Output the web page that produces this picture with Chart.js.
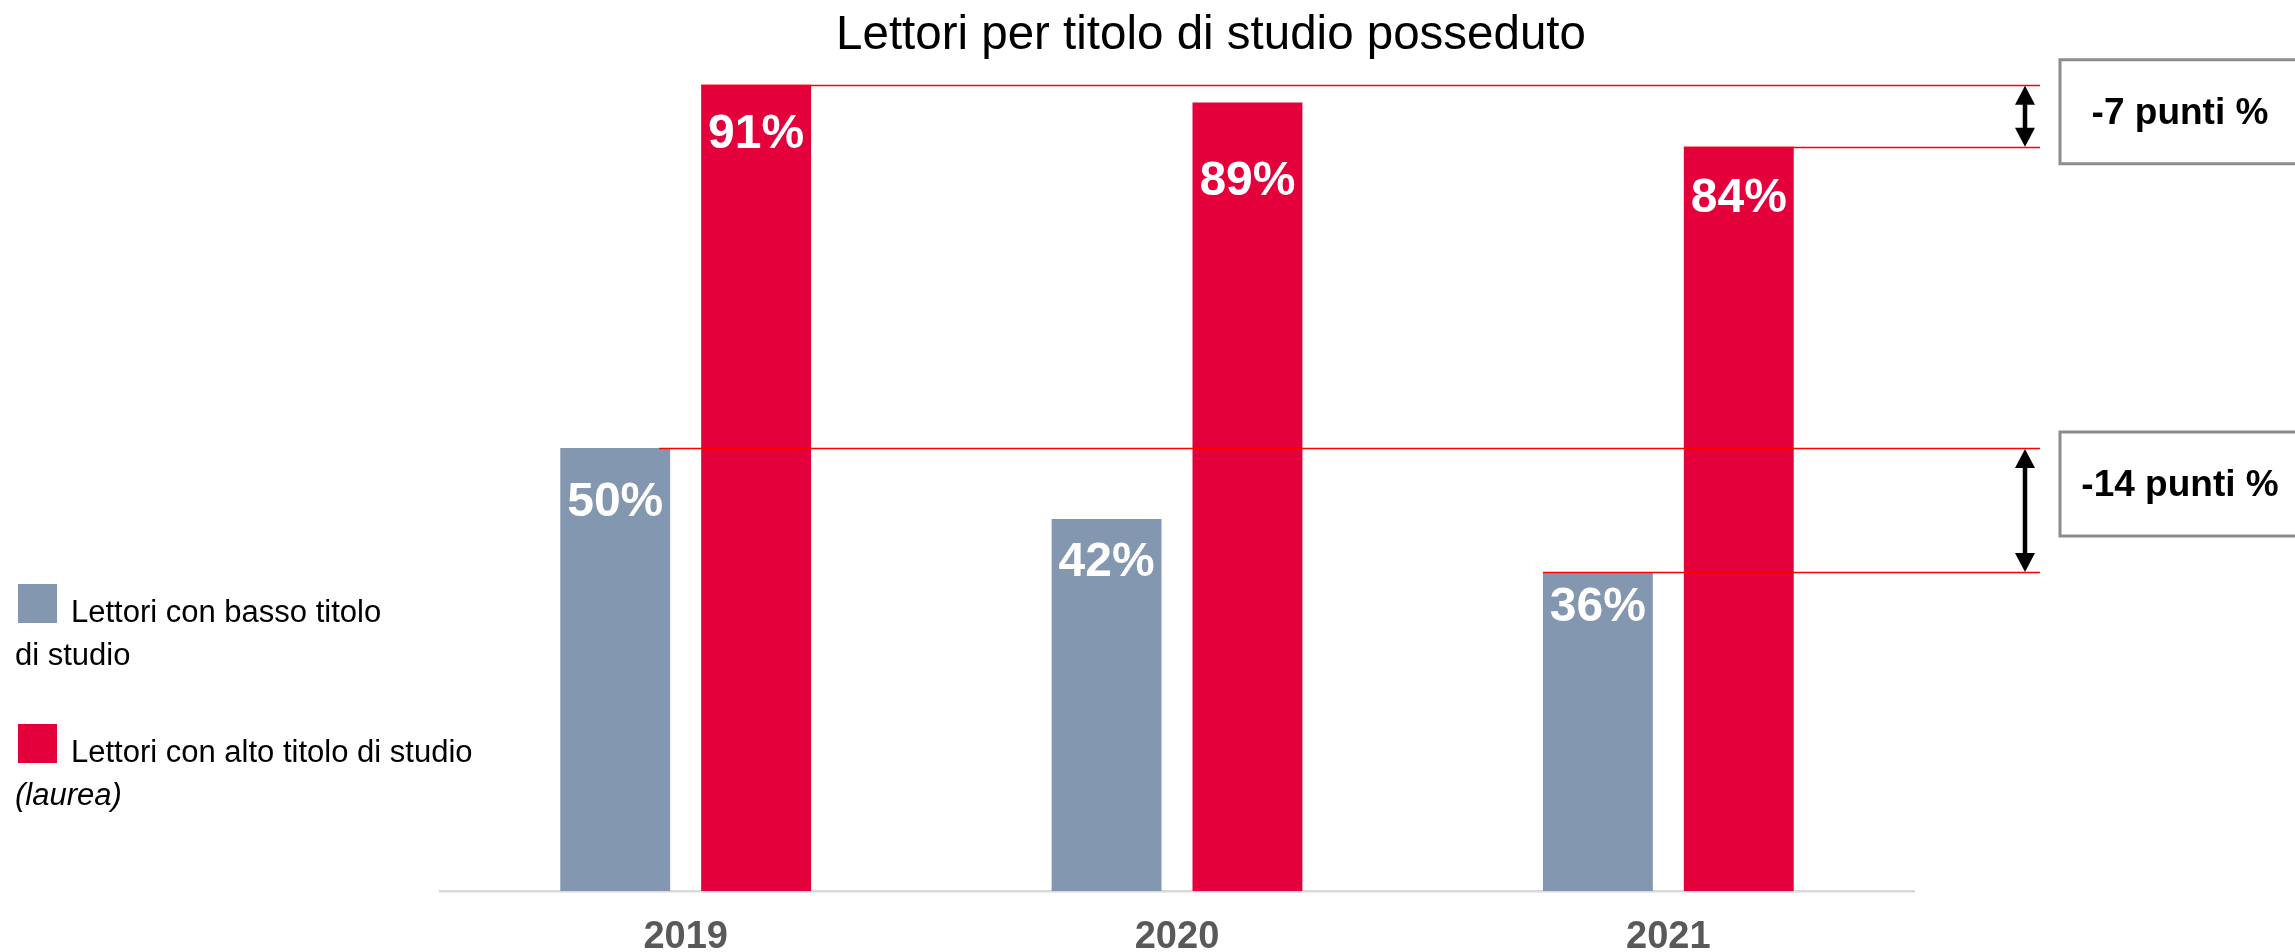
<!DOCTYPE html>
<html>
<head>
<meta charset="utf-8">
<script src="https://cdn.jsdelivr.net/npm/chart.js@4/dist/chart.umd.min.js"></script>
<style>
  html, body { margin: 0; padding: 0; background: #ffffff; }
  #wrap { width: 2295px; height: 952px; position: relative; }
  canvas { display: block; }
</style>
</head>
<body>
<div id="wrap"><canvas id="c" width="2295" height="952"></canvas></div>
<script>
// ---- data ----
const categories = ['2019', '2020', '2021'];
const bassoValues = [50, 42, 36];
const altoValues = [91, 89, 84];
const seriesNames = ['Lettori con basso titolo di studio', 'Lettori con alto titolo di studio (laurea)'];
const legendLines = [
  ['Lettori con basso titolo', 'di studio'],
  ['Lettori con alto titolo di studio', '(laurea)']
];
const chartTitle = 'Lettori per titolo di studio posseduto';
const diffUnit = 'punti %';

const FONT = '"Liberation Sans", Arial, Helvetica, sans-serif';
const GRAY = '#8497B0';
const RED = '#E4003B';

const overlayPlugin = {
  id: 'overlay',
  afterDatasetsDraw(chart, args, opts) {
    const ctx = chart.ctx;
    const m0 = chart.getDatasetMeta(0).data; // basso
    const m1 = chart.getDatasetMeta(1).data; // alto
    const left = b => b.x - b.width / 2;
    const right = b => b.x + b.width / 2;
    const xEnd = 2040;

    ctx.save();
    // reference lines
    ctx.strokeStyle = '#FF0000';
    ctx.lineWidth = 1.6;
    const refLines = [
      [left(m1[0]), m1[0].y],
      [left(m1[2]), m1[2].y],
      [right(m0[0]) - 11, m0[0].y],
      [left(m0[2]), m0[2].y]
    ];
    refLines.forEach(([x0, yy]) => {
      ctx.beginPath();
      ctx.moveTo(x0, Math.round(yy) + 0.5);
      ctx.lineTo(xEnd, Math.round(yy) + 0.5);
      ctx.stroke();
    });

    // arrows
    const ax = 2025;
    function arrow(y1, y2) {
      const hl = 19, hw = 10, sw = 4.5;
      ctx.fillStyle = '#000';
      ctx.fillRect(ax - sw / 2, y1 + hl - 1, sw, (y2 - y1) - 2 * hl + 2);
      ctx.beginPath();
      ctx.moveTo(ax, y1); ctx.lineTo(ax + hw, y1 + hl); ctx.lineTo(ax - hw, y1 + hl); ctx.closePath(); ctx.fill();
      ctx.beginPath();
      ctx.moveTo(ax, y2); ctx.lineTo(ax + hw, y2 - hl); ctx.lineTo(ax - hw, y2 - hl); ctx.closePath(); ctx.fill();
    }
    arrow(m1[0].y + 1, m1[2].y);
    arrow(m0[0].y + 1, m0[2].y);

    // boxes with differences
    function box(top, text) {
      const bx = 2060, bw = 260, bh = 104;
      ctx.strokeStyle = '#8C8C8C';
      ctx.lineWidth = 3;
      ctx.strokeRect(bx, top, bw, bh);
      ctx.fillStyle = '#000';
      ctx.font = 'bold 37px ' + FONT;
      ctx.textAlign = 'center';
      ctx.textBaseline = 'middle';
      ctx.fillText(text, 2180, top + bh / 2 + 2);
    }
    box(m1[0].y - 25, (altoValues[2] - altoValues[0]) + ' ' + diffUnit);
    box(m0[0].y - 16, (bassoValues[2] - bassoValues[0]) + ' ' + diffUnit);

    // data labels
    ctx.fillStyle = '#FFFFFF';
    ctx.font = 'bold 48px ' + FONT;
    ctx.textAlign = 'center';
    ctx.textBaseline = 'middle';
    const offs = opts.labelOffsets;
    [m0, m1].forEach((meta, di) => {
      const vals = di === 0 ? bassoValues : altoValues;
      meta.forEach((b, i) => {
        ctx.fillText(vals[i] + '%', b.x, b.y + offs[di][i]);
      });
    });

    // title
    ctx.fillStyle = '#000';
    ctx.font = '47.5px ' + FONT;
    ctx.textAlign = 'center';
    ctx.textBaseline = 'alphabetic';
    ctx.fillText(chartTitle, 1211, 49);

    // legend
    const colors = chart.data.datasets.map(d => d.backgroundColor);
    const legendTops = [584, 724];
    ctx.textAlign = 'left';
    legendLines.forEach((lines, i) => {
      const t = legendTops[i];
      ctx.fillStyle = colors[i];
      ctx.fillRect(18, t, 39, 39);
      ctx.fillStyle = '#000';
      ctx.font = '31px ' + FONT;
      ctx.fillText(lines[0], 71, t + 38);
      ctx.font = (i === 1 ? 'italic ' : '') + '31px ' + FONT;
      ctx.fillText(lines[1], 15, t + 81);
    });
    ctx.restore();
  }
};

new Chart(document.getElementById('c'), {
  type: 'bar',
  data: {
    labels: categories,
    datasets: [
      { label: seriesNames[0], data: bassoValues, backgroundColor: GRAY },
      { label: seriesNames[1], data: altoValues, backgroundColor: RED }
    ]
  },
  options: {
    responsive: false,
    animation: false,
    devicePixelRatio: 1,
    layout: { padding: { left: 440, right: 381, top: 5, bottom: 0 } },
    datasets: { bar: { categoryPercentage: 0.5735, barPercentage: 0.78 } },
    plugins: {
      legend: { display: false },
      title: { display: false },
      tooltip: { enabled: false },
      overlay: { labelOffsets: [[55, 44, 36], [50, 79, 52]] }
    },
    scales: {
      x: {
        grid: { display: false, drawTicks: false },
        border: { display: true, color: '#D9D9D9', width: 2.5 },
        ticks: { color: '#595959', font: { family: FONT, size: 38, weight: 'bold' }, padding: 24 },
        afterFit: s => { s.height = 61; }
      },
      y: {
        display: false,
        min: 0,
        max: 100
      }
    }
  },
  plugins: [overlayPlugin]
});
</script>
</body>
</html>
